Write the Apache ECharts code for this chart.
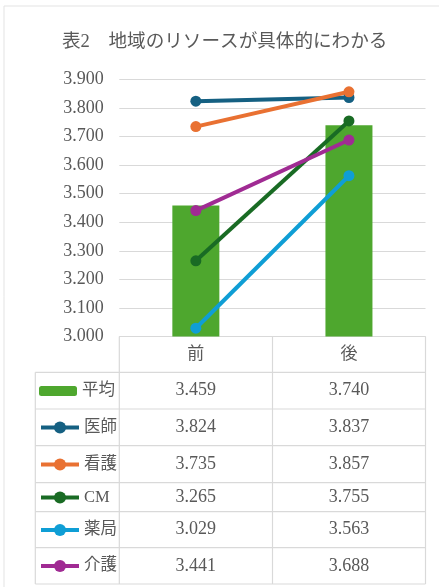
<!DOCTYPE html>
<html>
<head>
<meta charset="utf-8">
<script src="https://cdn.jsdelivr.net/npm/echarts@6/dist/echarts.min.js"></script>
<style>
  html, body { margin: 0; padding: 0; background: #fff; }
  #chart { width: 439px; height: 587px; }
</style>
</head>
<body>
<div id="chart"></div>
<script>
// データ
const categories = ['前', '後']
const seriesNames = ['平均', '医師', '看護', 'CM', '薬局', '介護']
const avgValues = [3.459, 3.740]
const doctorValues = [3.824, 3.837]
const nurseValues = [3.735, 3.857]
const cmValues = [3.265, 3.755]
const pharmacyValues = [3.029, 3.563]
const careValues = [3.441, 3.688]
const yTicks = [3.0, 3.1, 3.2, 3.3, 3.4, 3.5, 3.6, 3.7, 3.8, 3.9]

const allValues = [avgValues, doctorValues, nurseValues, cmValues, pharmacyValues, careValues]
const colors = ['#4ea72e', '#156082', '#e97132', '#196b24', '#0f9ed5', '#a02b93']

// 表のレイアウト
const textColor = '#595959'
const lineColor = '#d9d9d9'
const font = "'Liberation Serif', 'Noto Sans CJK JP', serif"
const axisY = 336.5
const tableLeft = 35.3
const colX = [119.3, 272.5, 425.5]
const rowLines = [336.5, 372.3, 409, 445.7, 482.7, 511.7, 547.7, 584]
const rowCenter = i => (rowLines[i + 1] + rowLines[i + 2]) / 2

const chart = echarts.init(document.getElementById('chart'))

const tableGraphics = []
// 外枠
tableGraphics.push({type: 'line', shape: {x1: 4, y1: 6, x2: 4, y2: 587}, style: {stroke: '#e3e3e3', lineWidth: 1}})
tableGraphics.push({type: 'line', shape: {x1: 4, y1: 6, x2: 439, y2: 6}, style: {stroke: '#e3e3e3', lineWidth: 1}})
// 横線
rowLines.forEach((y, i) => {
  tableGraphics.push({
    type: 'line',
    shape: {x1: i === 0 ? colX[0] : tableLeft, y1: y, x2: colX[2], y2: y},
    style: {stroke: lineColor, lineWidth: 1.2}
  })
})
// 縦線
tableGraphics.push({type: 'line', shape: {x1: tableLeft, y1: rowLines[1], x2: tableLeft, y2: rowLines[7]}, style: {stroke: lineColor, lineWidth: 1.2}})
colX.forEach(x => {
  tableGraphics.push({type: 'line', shape: {x1: x, y1: rowLines[0], x2: x, y2: rowLines[7]}, style: {stroke: lineColor, lineWidth: 1.2}})
})

const series = seriesNames.map((name, i) => {
  if (i === 0) {
    return {
      name, type: 'bar', data: allValues[i], barWidth: 47,
      itemStyle: {color: colors[i]}
    }
  }
  return {
    name, type: 'line', data: allValues[i],
    symbol: 'circle', symbolSize: 11,
    lineStyle: {color: colors[i], width: 4},
    itemStyle: {color: colors[i]}
  }
})

// 値の行は追加のx軸ラベルで描く
const valueAxes = allValues.map((vals, i) => ({
  type: 'category',
  gridIndex: 0,
  position: 'bottom',
  data: vals.map(v => v.toFixed(3)),
  axisLine: {show: false, onZero: false},
  axisTick: {show: false},
  axisLabel: {
    margin: rowCenter(i) - axisY,
    verticalAlign: 'middle',
    fontSize: 18,
    fontFamily: font,
    color: textColor
  }
}))

const legends = seriesNames.map((name, i) => ({
  data: [name],
  selectedMode: false,
  left: 39,
  top: rowCenter(i) - 8,
  padding: 0,
  itemWidth: 38,
  itemHeight: i === 0 ? 10 : 15,
  itemGap: 4,
  lineStyle: {width: 4},
  textStyle: {fontSize: 16.5, fontFamily: font, color: textColor}
}))

const option = {
  animation: false,
  title: {
    text: '表2　地域のリソースが具体的にわかる',
    left: 57,
    top: 28,
    textStyle: {fontSize: 18.6, fontWeight: 'normal', fontFamily: font, color: textColor}
  },
  legend: legends,
  grid: {left: 119.3, right: 13.5, top: 79.5, bottom: 587 - axisY},
  xAxis: [{
    type: 'category',
    data: categories,
    axisLine: {show: false, onZero: false},
    axisTick: {show: false},
    axisLabel: {
      margin: 18.5,
      verticalAlign: 'middle',
      fontSize: 17,
      fontFamily: font,
      color: textColor
    }
  }].concat(valueAxes),
  yAxis: {
    type: 'value',
    min: yTicks[0],
    max: yTicks[yTicks.length - 1],
    interval: 0.1,
    axisLine: {show: false},
    axisTick: {show: false},
    splitLine: {lineStyle: {color: lineColor, width: 1.2}},
    axisLabel: {
      margin: 15.5,
      fontSize: 18,
      fontFamily: font,
      color: textColor,
      formatter: v => v.toFixed(3)
    }
  },
  graphic: tableGraphics,
  series
}

chart.setOption(option)
</script>
</body>
</html>
